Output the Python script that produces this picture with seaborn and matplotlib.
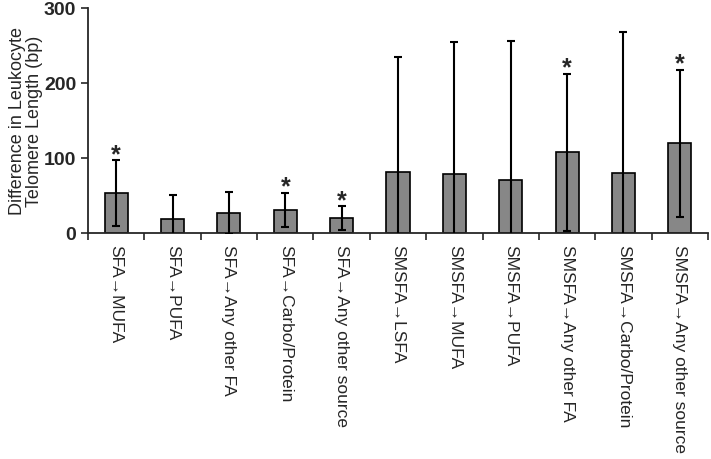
import numpy as np
import pandas as pd
import seaborn as sns
import matplotlib.pyplot as plt

# substitution comparisons
labels = ["SFA\u2192MUFA", "SFA\u2192PUFA", "SFA\u2192Any other FA",
          "SFA\u2192Carbo/Protein", "SFA\u2192Any other source",
          "SMSFA\u2192LSFA", "SMSFA\u2192MUFA", "SMSFA\u2192PUFA",
          "SMSFA\u2192Any other FA", "SMSFA\u2192Carbo/Protein",
          "SMSFA\u2192Any other source"]
diff_bp = [52.9, 19, 27, 31, 20, 81.8, 78.7, 70.7, 107.6, 80.4, 119.6]
err_bp = [44, 31.7, 28, 22.5, 15.6, 152.4, 175.5, 185, 104.4, 187, 98]
signif = [True, False, False, True, True, False, False, False, True, False, True]

df = pd.DataFrame({"comp": labels, "diff": diff_bp, "err": err_bp})

sns.set_style("ticks")
plt.rcParams['font.family'] = ['Liberation Sans', 'DejaVu Sans']

fig = plt.figure(figsize=(7.11, 4.6), dpi=100)
ax = fig.add_axes([88/711, 1-234/460, 620/711, 225/460])

sns.barplot(data=df, x="comp", y="diff", color="#878787", saturation=1,
            width=0.41, edgecolor="black", linewidth=1.2, errorbar=None, ax=ax)

xs = np.arange(len(labels))
ax.errorbar(xs, df["diff"], yerr=df["err"], fmt="none", ecolor="black",
            elinewidth=1.5, capsize=3, capthick=1.5, zorder=5)

for x, d, e, s in zip(xs, diff_bp, err_bp, signif):
    if s:
        ax.annotate("*", (x, d + e), xytext=(0, -4), textcoords="offset points",
                    ha="center", va="bottom", fontsize=18, fontweight="bold")

ax.set_xlim(-0.5, len(labels) - 0.5)
ax.set_ylim(0, 300)
ax.set_yticks([0, 100, 200, 300])
ax.set_xticks(np.arange(len(labels) + 1) - 0.5, minor=True)
ax.tick_params(axis="x", which="major", length=0, pad=8)
ax.tick_params(axis="x", which="minor", length=5, width=1.2)
ax.tick_params(axis="y", length=5, width=1.2, labelsize=14)
for lab in ax.get_xticklabels():
    lab.set_rotation(270)
    lab.set_fontsize(12.5)
    lab.set_va("top")
    lab.set_ha("center")
for lab in ax.get_yticklabels():
    lab.set_fontweight("bold")

ax.set_xlabel("")
ax.set_ylabel("Difference in Leukocyte\nTelomere Length (bp)", fontsize=13,
              linespacing=1.0, labelpad=0.5)
for sp in ["top", "right"]:
    ax.spines[sp].set_visible(False)
for sp in ["left", "bottom"]:
    ax.spines[sp].set_linewidth(1.3)

plt.savefig("out.png", dpi=100)
